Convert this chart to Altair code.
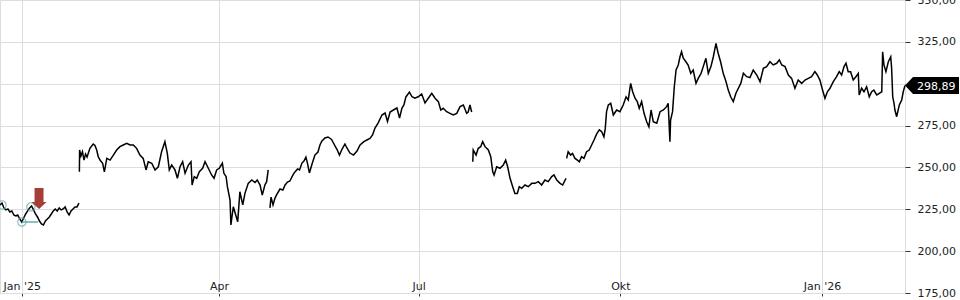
import json
import altair as alt
import pandas as pd
import numpy as np

BASE = pd.Timestamp("2025-01-01")

# ---------------- data (days from 2025-01-01, price in EUR) ----------------
x_domain_days = [-9.9, 402.8]
y_ticks = [175, 200, 225, 250, 275, 300, 325, 350]
month_labels = ["Jan", "Feb", "Mär", "Apr", "Mai", "Jun", "Jul", "Aug", "Sep", "Okt", "Nov", "Dez"]
x_tick_dates = ["2025-01-01", "2025-04-01", "2025-07-01", "2025-10-01", "2026-01-01"]

seg_a_span = [-9.9, 26.1]
seg_a_values = [227.6, 228.7, 225.8, 224.6, 225.2, 223.4, 224.0, 221.6, 221.0, 221.6,
                219.2, 217.4, 219.8, 222.2, 224.0, 225.8, 227.0, 224.6, 222.2, 220.4,
                218.0, 216.2, 215.6, 218.0, 219.2, 220.4, 222.2, 224.0, 225.2, 224.0,
                225.8, 224.6, 225.2, 226.4, 223.4, 221.6, 224.0, 225.2, 226.4, 226.4, 228.7]

seg_b_days = [26.3, 26.4, 27.0, 27.7, 28.4, 29.1, 29.8, 31.1, 32.6, 33.4,
              34.2, 34.9, 35.7, 36.9, 37.7, 38.8, 40.3, 41.8, 43.3, 44.8,
              46.3, 47.9, 49.4, 50.9, 52.4, 53.9, 55.4, 56.7, 57.7, 59.3,
              60.8, 62.3, 63.8, 65.3, 66.4, 67.3, 68.4, 69.9, 71.0, 72.2,
              73.4, 74.5, 76.0, 77.2, 77.7, 78.7, 79.8, 81.0, 82.5, 83.6,
              85.1, 86.6, 87.7, 88.9, 90.1, 91.5, 92.2, 93.2, 93.8, 95.0,
              95.4, 96.5, 97.6, 98.5, 99.5, 100.8, 101.8, 103.3, 104.9, 106.4,
              107.4, 108.7, 109.7, 110.9, 111.7, 112.4]
seg_b_values = [247.4, 260.4, 256.8, 259.4, 254.4, 258.0, 256.2, 261.4, 264.0, 263.1,
                260.4, 256.4, 254.4, 252.5, 247.4, 255.4, 254.4, 257.4, 260.4, 262.4,
                263.4, 264.4, 263.4, 263.4, 261.4, 257.4, 255.4, 248.5, 253.4, 252.5,
                248.5, 250.4, 259.4, 265.4, 258.4, 248.5, 251.4, 248.5, 243.5, 250.4,
                253.4, 246.5, 251.4, 253.4, 239.5, 244.5, 243.5, 247.4, 249.5, 253.4,
                249.5, 245.5, 243.5, 248.5, 249.5, 252.5, 246.5, 244.5, 238.5, 230.5,
                215.6, 226.5, 221.6, 217.6, 235.5, 227.6, 234.5, 240.5, 242.5, 241.0,
                242.5, 239.5, 233.5, 239.5, 241.5, 248.5]

seg_c_days = [113.2, 113.7, 114.6, 115.5, 116.4, 117.8, 119.1, 120.1, 121.2, 122.3,
              123.7, 124.6, 125.8, 126.7, 127.8, 128.7, 129.6, 130.3, 131.2, 132.4,
              133.7, 135.1, 136.0, 136.9, 138.3, 139.7, 141.3, 142.4, 143.8, 144.9,
              146.1, 147.4, 148.3, 149.7, 151.3, 152.9, 154.3, 155.9, 157.4, 158.8,
              160.0, 161.1, 162.5, 164.3, 165.7, 166.8, 168.0, 169.5, 171.1, 172.3,
              173.4, 174.3, 175.2, 176.8, 178.0, 179.3, 180.8, 182.4, 183.9, 185.4,
              187.0, 188.5, 190.0, 191.1, 192.2, 193.8, 195.3, 196.8, 198.4, 199.9,
              201.4, 202.9, 203.6, 204.4, 205.2]
seg_c_values = [225.8, 232.3, 227.6, 231.7, 234.1, 237.1, 236.5, 239.5, 241.3, 241.9,
                245.5, 247.3, 249.1, 248.5, 252.6, 253.8, 256.2, 252.6, 246.7, 252.0,
                257.4, 259.2, 263.4, 265.8, 267.6, 268.2, 266.7, 264.0, 260.7, 257.4,
                261.0, 264.0, 261.6, 258.6, 257.4, 259.8, 263.4, 265.2, 266.4, 267.3,
                269.4, 273.5, 276.5, 281.3, 282.5, 277.4, 283.1, 284.3, 285.5, 279.5,
                285.5, 287.3, 292.1, 295.0, 292.2, 291.3, 292.2, 293.9, 288.5, 291.3,
                294.3, 291.3, 289.3, 284.3, 285.3, 283.3, 282.3, 281.3, 282.3, 286.3,
                287.3, 282.3, 283.1, 287.3, 283.1]

seg_d_days = [205.7, 205.9, 207.2, 208.2, 209.3, 210.2, 211.3, 212.8, 213.9, 214.8,
              215.4, 216.6, 218.1, 219.6, 220.7, 221.6, 222.7, 223.9, 224.9, 226.0,
              226.9, 228.0, 229.5, 231.0, 232.6, 234.1, 235.6, 237.1, 238.6, 240.1,
              241.7, 242.7, 244.0, 245.5, 246.7, 248.2]
seg_d_values = [253.4, 260.4, 257.4, 261.4, 262.4, 265.4, 262.4, 260.4, 256.4, 247.4,
                245.5, 250.4, 249.5, 251.4, 254.4, 250.4, 243.5, 238.5, 234.5, 234.5,
                238.5, 237.5, 239.5, 238.5, 240.5, 240.5, 241.5, 239.5, 242.5, 241.5,
                244.5, 245.5, 242.5, 240.5, 239.5, 243.5]

seg_e_days = [248.5, 249.2, 250.3, 251.2, 252.3, 253.4, 254.3, 255.3, 256.4, 257.6,
              258.8, 259.9, 261.0, 262.2, 263.4, 264.5, 265.5, 266.1, 266.7, 267.5,
              268.6, 269.8, 271.3, 272.8, 274.3, 275.6, 276.6, 277.7, 278.6, 279.7,
              280.7, 281.6, 282.7, 283.8, 285.0, 286.0, 287.0, 288.0, 289.6, 291.1,
              292.6, 294.1, 294.8, 295.6, 295.9, 296.8, 297.6, 298.4, 299.4, 300.2,
              300.9, 301.7, 302.9, 303.9, 305.1, 306.2, 307.5, 308.5, 309.8, 310.8,
              312.0, 313.1, 314.3, 315.4, 316.6, 317.6, 318.7, 319.9, 321.2, 322.2,
              323.3, 324.5, 325.7, 326.8, 327.9, 329.1, 330.6, 332.1, 333.6, 335.2,
              336.7, 338.2, 339.7, 341.2, 342.7, 344.3, 345.5, 346.6, 348.1, 349.6,
              351.1, 352.6, 354.1, 355.7, 357.2, 358.7, 360.2, 361.7, 362.8, 364.0,
              365.2, 366.3, 367.4, 368.6, 370.1, 371.6, 372.8, 373.9, 375.0, 375.9,
              376.9, 378.0, 379.2, 380.4, 381.5, 381.9, 383.0, 384.1, 385.3, 386.5,
              387.6, 388.6, 389.9, 391.1, 392.2, 392.6, 393.2, 394.1, 395.2, 396.3,
              396.7, 397.2, 397.8, 398.2, 399.0, 400.2, 401.3, 402.0, 402.8]
seg_e_values = [255.4, 259.4, 257.4, 258.4, 255.4, 254.4, 253.4, 256.4, 255.4, 259.4,
                260.4, 263.4, 266.4, 270.0, 272.4, 271.3, 268.3, 273.0, 283.3, 287.3,
                288.3, 281.3, 284.3, 283.3, 287.3, 292.2, 290.3, 300.2, 295.2, 291.3,
                289.3, 285.3, 289.3, 282.3, 277.3, 274.3, 284.3, 277.3, 276.4, 283.3,
                284.3, 286.3, 288.3, 265.4, 278.3, 283.3, 298.2, 308.2, 311.2, 316.1,
                319.1, 315.2, 313.1, 311.2, 306.2, 308.2, 300.2, 303.2, 306.2, 310.2,
                315.2, 306.2, 310.2, 316.1, 324.1, 318.2, 313.1, 306.2, 301.2, 296.2,
                292.2, 289.3, 294.3, 297.3, 300.2, 306.2, 304.2, 303.7, 308.2, 305.2,
                301.2, 309.2, 310.2, 313.1, 311.2, 312.2, 314.2, 311.2, 310.2, 305.2,
                303.2, 297.3, 302.2, 300.2, 302.2, 303.2, 304.2, 307.2, 305.2, 302.2,
                296.2, 291.3, 295.2, 297.3, 301.2, 304.2, 307.2, 305.2, 310.2, 312.2,
                307.2, 307.2, 302.2, 304.2, 306.2, 293.3, 297.3, 295.2, 298.2, 292.2,
                295.2, 296.2, 293.3, 294.3, 295.2, 319.1, 311.2, 307.2, 313.1, 316.1,
                309.2, 292.2, 288.3, 284.3, 280.3, 287.3, 290.3, 295.2, 298.89]

# pattern annotations
circle_days = [-9.0, 0.1, 4.2]
circle_values = [227.6, 217.4, 226.4]
support_days = [0.1, 7.4]
support_value = 217.4
arrow_day = 7.9
arrow_value = 225.2

# ---------------- build tables ----------------
def to_date(days):
    return [BASE + pd.to_timedelta(d, unit="D") for d in days]

seg_a_days = list(np.linspace(seg_a_span[0], seg_a_span[1], len(seg_a_values)))
segments = [("A", seg_a_days, seg_a_values), ("B", seg_b_days, seg_b_values),
            ("C", seg_c_days, seg_c_values), ("D", seg_d_days, seg_d_values),
            ("E", seg_e_days, seg_e_values)]
frames = []
for name, days, vals in segments:
    n = min(len(days), len(vals))
    frames.append(pd.DataFrame({"date": to_date(days[:n]), "value": vals[:n], "seg": name}))
df = pd.concat(frames, ignore_index=True)

last = pd.DataFrame({"date": to_date([seg_e_days[-1]]), "value": [seg_e_values[-1]]})
last["label"] = last["value"].map(lambda v: f"{v:.2f}".replace(".", ","))
circles = pd.DataFrame({"date": to_date(circle_days), "value": circle_values})
support = pd.DataFrame({"date": to_date([support_days[0]]), "date2": to_date([support_days[1]]),
                        "value": [support_value]})
arrow = pd.DataFrame({"date": to_date([arrow_day]), "value": [arrow_value]})

def dt(ts):
    return alt.DateTime(year=ts.year, month=ts.month, date=ts.day, hours=ts.hour, minutes=ts.minute)

dom = [dt(t) for t in to_date(x_domain_days)]
tick_vals = [dt(pd.Timestamp(s)) for s in x_tick_dates]

label_expr = ('month(datum.value) == 0 ? "Jan \'" + timeFormat(datum.value, "%y") : '
              + json.dumps(month_labels, ensure_ascii=False) + '[month(datum.value)]')

FONT = "DejaVu Sans"
GRID = "#dddddd"

x_enc = alt.X("date:T", scale=alt.Scale(domain=dom),
              axis=alt.Axis(values=tick_vals, labelExpr=label_expr, title=None, grid=True,
                            gridColor=GRID, domainColor=GRID, tickColor="#333", tickSize=3,
                            labelPadding=-6.5, labelBaseline="alphabetic", labelFont=FONT,
                            labelFontSize=11, labelColor="#222", labelFlush=False,
                            labelOverlap=False, labelAngle=0))
y_enc = alt.Y("value:Q", scale=alt.Scale(domain=[175, 350], nice=False, zero=False),
              axis=alt.Axis(orient="right", values=y_ticks, title=None, grid=True,
                            gridColor=GRID, domain=False, tickColor="#333", tickSize=5,
                            labelPadding=7, labelFont=FONT, labelFontSize=11,
                            labelColor="#222",
                            labelExpr="replace(format(datum.value, '.2f'), '.', ',')"))

line = alt.Chart(df).mark_line(color="black", strokeWidth=1.5, strokeJoin="miter").encode(
    x=x_enc, y=y_enc, detail="seg:N")

sup = alt.Chart(support).mark_rule(color="#4f9fa6", strokeWidth=1.3).encode(
    x="date:T", x2="date2:T", y="value:Q")

circ = alt.Chart(circles).mark_point(shape="circle", filled=False, color="#5aa6ad",
                                     size=70, strokeWidth=1.2).encode(x="date:T", y="value:Q")

arr = alt.Chart(arrow).mark_point(
    shape="M0,0 L-0.75,-0.7 L-0.45,-0.7 L-0.45,-2.1 L0.45,-2.1 L0.45,-0.7 L0.75,-0.7 Z",
    filled=True, color="#a63e38", opacity=1, size=400, strokeWidth=0).encode(
    x="date:T", y="value:Q")

box = alt.Chart(last).mark_point(
    shape="M0,0 L0.8,-0.85 L5.4,-0.85 L5.4,0.85 L0.8,0.85 Z",
    filled=True, color="black", opacity=1, size=400, strokeWidth=0).encode(
    x="date:T", y="value:Q")

txt = alt.Chart(last).mark_text(align="left", baseline="middle", dx=12, dy=1, color="white",
                                font=FONT, fontSize=11).encode(
    x="date:T", y="value:Q", text="label:N")

chart = alt.layer(line, sup, circ, arr, box, txt).properties(
    width=905, height=293,
    autosize=alt.AutoSizeParams(type="none"),
    padding={"left": 0, "top": 0, "right": 55, "bottom": 7},
).configure_view(strokeWidth=0).configure(background="white")

chart.save("out.html", embed_options={"renderer": "svg", "actions": False})
